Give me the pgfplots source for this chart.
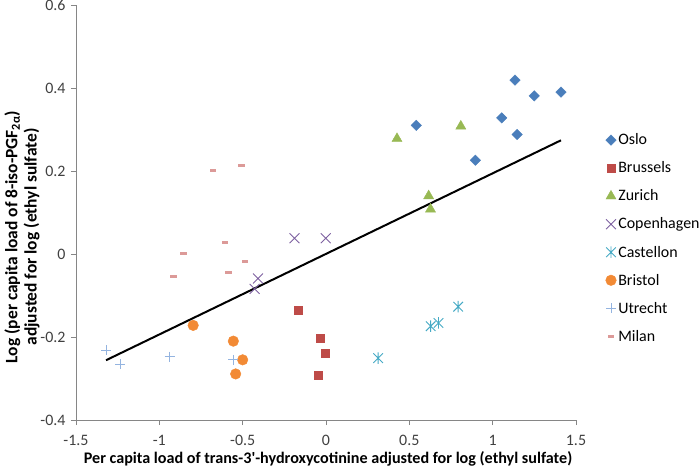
\documentclass[border=0pt]{standalone}
\usepackage{pgfplots}
\pgfplotsset{compat=1.18}
\usepackage{fontspec}
\setmainfont{Carlito}
\definecolor{cOslo}{HTML}{4A7EBB}
\definecolor{cBru}{HTML}{BE4B48}
\definecolor{cZur}{HTML}{98B954}
\definecolor{cCop}{HTML}{7D60A0}
\definecolor{cCas}{HTML}{46AAC5}
\definecolor{cBri}{HTML}{F28A35}
\definecolor{cUtr}{HTML}{94B4E0}
\definecolor{cMil}{HTML}{DC9A98}
\definecolor{axisgray}{HTML}{868686}
\definecolor{labelgray}{HTML}{404040}
\pgfdeclareplotmark{xstar}{%
  \pgfpathmoveto{\pgfqpoint{-\pgfplotmarksize}{-\pgfplotmarksize}}%
  \pgfpathlineto{\pgfqpoint{\pgfplotmarksize}{\pgfplotmarksize}}%
  \pgfpathmoveto{\pgfqpoint{-\pgfplotmarksize}{\pgfplotmarksize}}%
  \pgfpathlineto{\pgfqpoint{\pgfplotmarksize}{-\pgfplotmarksize}}%
  \pgfpathmoveto{\pgfqpoint{0pt}{-1.2\pgfplotmarksize}}%
  \pgfpathlineto{\pgfqpoint{0pt}{1.2\pgfplotmarksize}}%
  \pgfusepathqstroke}
\pgfdeclareplotmark{dash}{%
  \pgfpathrectangle{\pgfqpoint{-3.2bp}{-1.6bp}}{\pgfqpoint{6.4bp}{3.2bp}}%
  \pgfusepathqfill}
\begin{document}
\begin{tikzpicture}
\path[use as bounding box] (-76bp,-50bp) rectangle (624bp,420bp);
\begin{axis}[
  scale only axis, width=500bp, height=415bp,
  xmin=-1.5, xmax=1.5, ymin=-0.4, ymax=0.6,
  axis x line*=bottom, axis y line*=left,
  axis line style={draw=axisgray, line width=0.8bp, -},
  xtick={-1.5,-1,-0.5,0,0.5,1,1.5},
  xticklabels={-1.5,-1,-0.5,0,0.5,1,1.5},
  ytick={-0.4,-0.2,0,0.2,0.4,0.6},
  yticklabels={-0.4,-0.2,0,0.2,0.4,0.6},
  tick align=outside, major tick length=5bp,
  tick style={draw=axisgray, line width=0.8bp},
  ticklabel style={font=\fontsize{16}{18}\selectfont, text=labelgray},
  xticklabel style={yshift=-7bp},
  yticklabel style={xshift=-2bp},
  xlabel={Per capita load of trans-3\textquotesingle-hydroxycotinine adjusted for log (ethyl sulfate)},
  ylabel={Log (per capita load of 8-iso-PGF\textsubscript{2α})\\adjusted for log (ethyl sulfate)},
  every axis x label/.style={font=\bfseries\fontsize{16.2}{18}\selectfont, at={(axis description cs:0.504,-0.094)}, anchor=center},
  every axis y label/.style={font=\bfseries\fontsize{17.5}{19.5}\selectfont, align=center, rotate=90, at={(axis description cs:-0.108,0.441)}, anchor=center},
  legend style={at={(axis description cs:1.059,0.695)}, anchor=north west, draw=none, fill=none,
    font=\fontsize{16}{18}\selectfont, row sep=11.5bp, inner sep=0pt},
  legend cell align=left,
  clip=false,
]
\addplot[only marks, mark=square*, mark size=3.7bp, mark options={rotate=45, fill=cOslo, draw=cOslo}] table {
x y
0.542 0.310
0.896 0.226
1.054 0.328
1.134 0.419
1.147 0.288
1.249 0.381
1.410 0.390
};
\addlegendentry{Oslo}
\addplot[only marks, mark=square*, mark size=4bp, mark options={fill=cBru, draw=cBru}] table {
x y
-0.164 -0.136
-0.036 -0.204
-0.004 -0.240
-0.046 -0.291
};
\addlegendentry{Brussels}
\addplot[only marks, mark=triangle*, mark size=5.8bp, mark options={fill=cZur, draw=cZur}] table {
x y
0.426 0.278
0.809 0.308
0.616 0.140
0.627 0.108
};
\addlegendentry{Zurich}
\addplot[only marks, mark=x, mark size=7bp, mark options={draw=cCop, line width=0.9bp}] table {
x y
-0.189 0.038
-0.002 0.038
-0.408 -0.059
-0.428 -0.084
};
\addlegendentry{Copenhagen}
\addplot[only marks, mark=xstar, mark size=4.8bp, mark options={draw=cCas, line width=0.9bp}] table {
x y
0.313 -0.251
0.628 -0.174
0.675 -0.166
0.793 -0.127
};
\addlegendentry{Castellon}
\addplot[only marks, mark=*, mark size=5.3bp, mark options={fill=cBri, draw=cBri}] table {
x y
-0.797 -0.172
-0.556 -0.210
-0.500 -0.255
-0.542 -0.289
};
\addlegendentry{Bristol}
\addplot[only marks, mark=+, mark size=5bp, mark options={draw=cUtr, line width=0.9bp}] table {
x y
-1.319 -0.232
-1.233 -0.266
-0.938 -0.247
-0.556 -0.255
};
\addlegendentry{Utrecht}
\addplot[only marks, mark=dash, mark options={fill=cMil, draw=none}] table {
x y
-0.677 0.202
-0.506 0.213
-0.607 0.028
-0.855 0.002
-0.486 -0.018
-0.916 -0.054
-0.586 -0.044
};
\addlegendentry{Milan}
\addplot[black, line width=2bp, forget plot] coordinates {(-1.32,-0.256) (1.41,0.274)};
\end{axis}
\end{tikzpicture}
\end{document}
